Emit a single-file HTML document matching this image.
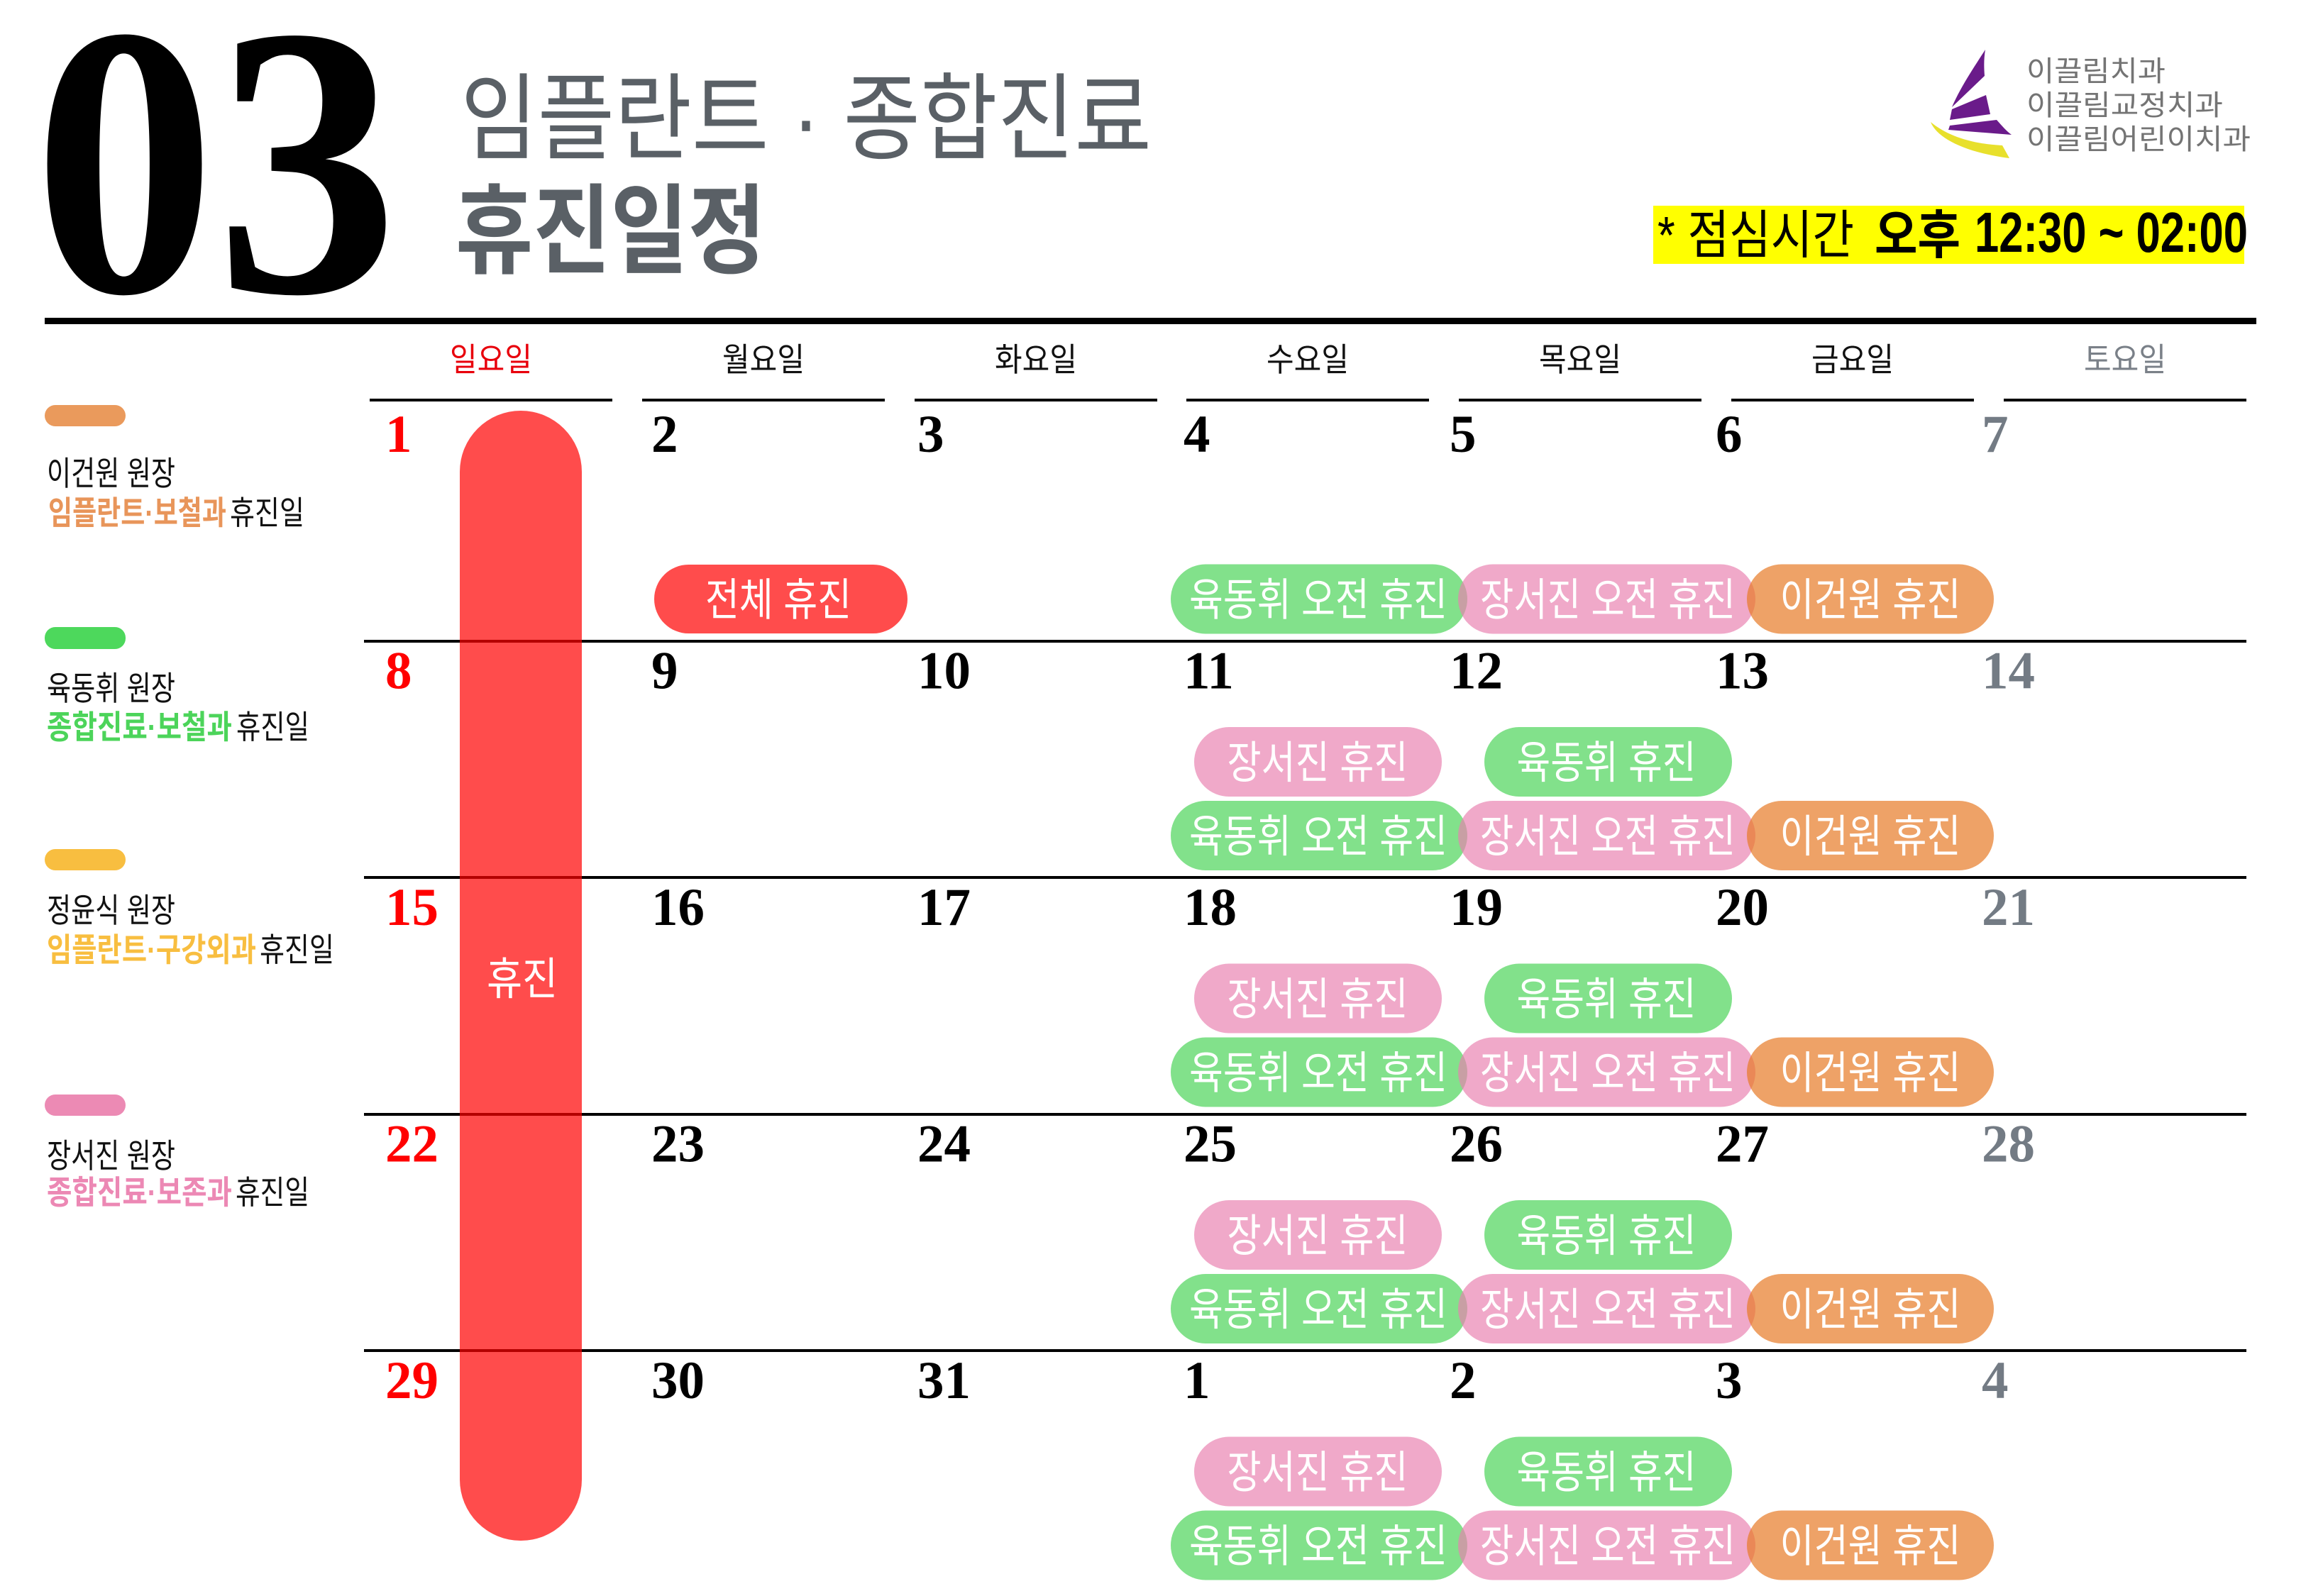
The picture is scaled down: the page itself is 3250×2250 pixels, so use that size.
<!DOCTYPE html>
<html><head><meta charset="utf-8"><style>
html,body{margin:0;padding:0;background:#fff;}
svg{display:block;}
.k{font-family:"Liberation Sans","Noto Sans CJK KR",sans-serif;}
.n{font-family:"Liberation Serif",serif;font-weight:bold;font-size:75px;}
.p{font-family:"Liberation Sans","Noto Sans CJK KR",sans-serif;font-size:63px;fill:#fff;}
.h{font-family:"Liberation Sans","Noto Sans CJK KR",sans-serif;font-size:46px;fill:#111;}
</style></head><body>
<svg width="3250" height="2250" viewBox="0 0 3250 2250" xmlns="http://www.w3.org/2000/svg">
<rect width="3250" height="2250" fill="#fff"/>

<!-- Big 03 -->
<text x="47" y="411" font-family="Liberation Serif, serif" font-weight="bold" font-size="545" textLength="514" lengthAdjust="spacingAndGlyphs" fill="#000">03</text>

<!-- Title -->
<text class="k" x="649" y="214" font-size="134" fill="#5a6066" textLength="974" lengthAdjust="spacingAndGlyphs">임플란트 · 종합진료</text>
<text class="k" x="642" y="374" font-size="138" font-weight="bold" fill="#5a6066" textLength="437" lengthAdjust="spacingAndGlyphs">휴진일정</text>

<!-- Logo -->
<path d="M2798,70 C2780,98 2762,125 2751,151 L2797,107 C2796,94 2796,82 2798,70 Z" fill="#6a1b8a"/>
<path d="M2751,154 L2799,134 L2805,161 L2748,169 Z" fill="#6a1b8a"/>
<path d="M2748,177 L2814,169 C2822,178 2828,185 2835,190 L2746,183 Z" fill="#6a1b8a"/>
<path d="M2721,172 C2730,195 2770,215 2832,223 L2822,205 C2780,203 2745,192 2721,172 Z" fill="#e8e02c"/>
<text class="k" x="2856" y="114" font-size="40" fill="#747474" textLength="196" lengthAdjust="spacingAndGlyphs">이끌림치과</text>
<text class="k" x="2856" y="162" font-size="40" fill="#747474" textLength="277" lengthAdjust="spacingAndGlyphs">이끌림교정치과</text>
<text class="k" x="2856" y="210" font-size="40" fill="#747474" textLength="316" lengthAdjust="spacingAndGlyphs">이끌림어린이치과</text>

<!-- Lunch box -->
<rect x="2330" y="290" width="833" height="82" fill="#ffff00"/>
<text class="k" x="2336" y="357" font-size="74" fill="#000" textLength="277" lengthAdjust="spacingAndGlyphs">* 점심시간</text>
<text class="k" x="2642" y="357" font-size="74" font-weight="bold" fill="#000" textLength="121" lengthAdjust="spacingAndGlyphs">오후</text>
<text x="2783" y="355" font-family="Liberation Sans, sans-serif" font-weight="bold" font-size="80" fill="#000" textLength="385" lengthAdjust="spacingAndGlyphs">12:30 ~ 02:00</text>

<!-- Top rule -->
<rect x="63" y="448" width="3117" height="9" fill="#000"/>

<!-- Day headers -->
<text class="h" x="692" y="523" text-anchor="middle" fill="#e8000b" style="fill:#e8000b" textLength="116" lengthAdjust="spacingAndGlyphs">일요일</text>
<text class="h" x="1076" y="523" text-anchor="middle" textLength="116" lengthAdjust="spacingAndGlyphs">월요일</text>
<text class="h" x="1460" y="523" text-anchor="middle" textLength="116" lengthAdjust="spacingAndGlyphs">화요일</text>
<text class="h" x="1843" y="523" text-anchor="middle" textLength="116" lengthAdjust="spacingAndGlyphs">수요일</text>
<text class="h" x="2227" y="523" text-anchor="middle" textLength="116" lengthAdjust="spacingAndGlyphs">목요일</text>
<text class="h" x="2611" y="523" text-anchor="middle" textLength="116" lengthAdjust="spacingAndGlyphs">금요일</text>
<text class="h" x="2995" y="523" text-anchor="middle" style="fill:#7a8088" textLength="116" lengthAdjust="spacingAndGlyphs">토요일</text>

<!-- Header underlines -->
<g fill="#000">
<rect x="521" y="562" width="342" height="4"/>
<rect x="905" y="562" width="342" height="4"/>
<rect x="1289" y="562" width="342" height="4"/>
<rect x="1672" y="562" width="342" height="4"/>
<rect x="2056" y="562" width="342" height="4"/>
<rect x="2440" y="562" width="342" height="4"/>
<rect x="2824" y="562" width="342" height="4"/>
</g>

<!-- Row lines -->
<g fill="#000">
<rect x="513" y="902" width="2653" height="4"/>
<rect x="513" y="1235" width="2653" height="4"/>
<rect x="513" y="1569" width="2653" height="4"/>
<rect x="513" y="1902" width="2653" height="4"/>
</g>

<!-- Legend -->
<rect x="63" y="571" width="114" height="30" rx="15" fill="#ea9a5c"/>
<text class="k" x="66" y="684" font-size="47" fill="#111" textLength="181" lengthAdjust="spacingAndGlyphs">이건원 원장</text>
<text class="k" x="68" y="739" font-size="46" font-weight="bold" fill="#e8955a" textLength="251" lengthAdjust="spacingAndGlyphs">임플란트·보철과</text>
<text class="k" x="324" y="739" font-size="46" fill="#111" textLength="105" lengthAdjust="spacingAndGlyphs">휴진일</text>

<rect x="63" y="884" width="114" height="31" rx="15" fill="#4dd85c"/>
<text class="k" x="66" y="987" font-size="47" fill="#111" textLength="181" lengthAdjust="spacingAndGlyphs">육동휘 원장</text>
<text class="k" x="66" y="1041" font-size="46" font-weight="bold" fill="#4cd45a" textLength="261" lengthAdjust="spacingAndGlyphs">종합진료·보철과</text>
<text class="k" x="333" y="1041" font-size="46" fill="#111" textLength="103" lengthAdjust="spacingAndGlyphs">휴진일</text>

<rect x="63" y="1197" width="114" height="30" rx="15" fill="#f8be40"/>
<text class="k" x="66" y="1300" font-size="47" fill="#111" textLength="181" lengthAdjust="spacingAndGlyphs">정윤식 원장</text>
<text class="k" x="66" y="1355" font-size="46" font-weight="bold" fill="#f8be40" textLength="295" lengthAdjust="spacingAndGlyphs">임플란트·구강외과</text>
<text class="k" x="366" y="1355" font-size="46" fill="#111" textLength="105" lengthAdjust="spacingAndGlyphs">휴진일</text>

<rect x="63" y="1543" width="114" height="30" rx="15" fill="#ec8ab4"/>
<text class="k" x="66" y="1646" font-size="47" fill="#111" textLength="181" lengthAdjust="spacingAndGlyphs">장서진 원장</text>
<text class="k" x="66" y="1697" font-size="46" font-weight="bold" fill="#ec88b4" textLength="261" lengthAdjust="spacingAndGlyphs">종합진료·보존과</text>
<text class="k" x="332" y="1697" font-size="46" fill="#111" textLength="104" lengthAdjust="spacingAndGlyphs">휴진일</text>

<!-- Date numbers -->
<g class="n">
<text x="543" y="637" fill="#ff0000">1</text>
<text x="918" y="637">2</text>
<text x="1293" y="637">3</text>
<text x="1668" y="637">4</text>
<text x="2043" y="637">5</text>
<text x="2418" y="637">6</text>
<text x="2793" y="637" fill="#737b84">7</text>

<text x="543" y="970.5" fill="#ff0000">8</text>
<text x="918" y="970.5">9</text>
<text x="1293" y="970.5">10</text>
<text x="1668" y="970.5">11</text>
<text x="2043" y="970.5">12</text>
<text x="2418" y="970.5">13</text>
<text x="2793" y="970.5" fill="#737b84">14</text>

<text x="543" y="1304" fill="#ff0000">15</text>
<text x="918" y="1304">16</text>
<text x="1293" y="1304">17</text>
<text x="1668" y="1304">18</text>
<text x="2043" y="1304">19</text>
<text x="2418" y="1304">20</text>
<text x="2793" y="1304" fill="#737b84">21</text>

<text x="543" y="1637.5" fill="#ff0000">22</text>
<text x="918" y="1637.5">23</text>
<text x="1293" y="1637.5">24</text>
<text x="1668" y="1637.5">25</text>
<text x="2043" y="1637.5">26</text>
<text x="2418" y="1637.5">27</text>
<text x="2793" y="1637.5" fill="#737b84">28</text>

<text x="543" y="1971" fill="#ff0000">29</text>
<text x="918" y="1971">30</text>
<text x="1293" y="1971">31</text>
<text x="1668" y="1971">1</text>
<text x="2043" y="1971">2</text>
<text x="2418" y="1971">3</text>
<text x="2793" y="1971" fill="#737b84">4</text>
</g>

<!-- Big Sunday pill -->
<rect x="648" y="579" width="172" height="1593" rx="86" fill="#ff0000" fill-opacity="0.7"/>
<text class="p" x="736" y="1402" text-anchor="middle" font-size="62" textLength="100" lengthAdjust="spacingAndGlyphs">휴진</text>

<!-- Row 1 pills -->
<rect x="922" y="796" width="357" height="97" rx="48.5" fill="#ff0000" fill-opacity="0.7"/>
<text class="p" x="1097" y="867.5" text-anchor="middle" textLength="206" lengthAdjust="spacingAndGlyphs">전체 휴진</text>

<rect x="1650" y="795.5" width="418" height="98" rx="49" fill="#82e18b"/>
<text class="p" x="1858" y="867.5" text-anchor="middle" textLength="364" lengthAdjust="spacingAndGlyphs">육동휘 오전 휴진</text>
<rect x="2055" y="795.5" width="419" height="98" rx="49" fill="rgb(233,128,176)" fill-opacity="0.68"/>
<text class="p" x="2266" y="867.5" text-anchor="middle" textLength="360" lengthAdjust="spacingAndGlyphs">장서진 오전 휴진</text>
<rect x="2462" y="795.5" width="348" height="98" rx="49" fill="rgb(231,122,39)" fill-opacity="0.7"/>
<text class="p" x="2636" y="867.5" text-anchor="middle" textLength="255" lengthAdjust="spacingAndGlyphs">이건원 휴진</text>

<!-- Row 2 -->
<rect x="1683" y="1025" width="349" height="98" rx="49" fill="rgb(233,128,176)" fill-opacity="0.68"/>
<text class="p" x="1857" y="1097" text-anchor="middle" textLength="255" lengthAdjust="spacingAndGlyphs">장서진 휴진</text>
<rect x="2092" y="1025" width="349" height="98" rx="49" fill="#82e18b"/>
<text class="p" x="2264" y="1097" text-anchor="middle" textLength="253" lengthAdjust="spacingAndGlyphs">육동휘 휴진</text>
<rect x="1650" y="1129" width="418" height="98" rx="49" fill="#82e18b"/>
<text class="p" x="1858" y="1201" text-anchor="middle" textLength="364" lengthAdjust="spacingAndGlyphs">육동휘 오전 휴진</text>
<rect x="2055" y="1129" width="419" height="98" rx="49" fill="rgb(233,128,176)" fill-opacity="0.68"/>
<text class="p" x="2266" y="1201" text-anchor="middle" textLength="360" lengthAdjust="spacingAndGlyphs">장서진 오전 휴진</text>
<rect x="2462" y="1129" width="348" height="98" rx="49" fill="rgb(231,122,39)" fill-opacity="0.7"/>
<text class="p" x="2636" y="1201" text-anchor="middle" textLength="255" lengthAdjust="spacingAndGlyphs">이건원 휴진</text>

<!-- Row 3 -->
<rect x="1683" y="1358.5" width="349" height="98" rx="49" fill="rgb(233,128,176)" fill-opacity="0.68"/>
<text class="p" x="1857" y="1430.5" text-anchor="middle" textLength="255" lengthAdjust="spacingAndGlyphs">장서진 휴진</text>
<rect x="2092" y="1358.5" width="349" height="98" rx="49" fill="#82e18b"/>
<text class="p" x="2264" y="1430.5" text-anchor="middle" textLength="253" lengthAdjust="spacingAndGlyphs">육동휘 휴진</text>
<rect x="1650" y="1462.5" width="418" height="98" rx="49" fill="#82e18b"/>
<text class="p" x="1858" y="1534.5" text-anchor="middle" textLength="364" lengthAdjust="spacingAndGlyphs">육동휘 오전 휴진</text>
<rect x="2055" y="1462.5" width="419" height="98" rx="49" fill="rgb(233,128,176)" fill-opacity="0.68"/>
<text class="p" x="2266" y="1534.5" text-anchor="middle" textLength="360" lengthAdjust="spacingAndGlyphs">장서진 오전 휴진</text>
<rect x="2462" y="1462.5" width="348" height="98" rx="49" fill="rgb(231,122,39)" fill-opacity="0.7"/>
<text class="p" x="2636" y="1534.5" text-anchor="middle" textLength="255" lengthAdjust="spacingAndGlyphs">이건원 휴진</text>

<!-- Row 4 -->
<rect x="1683" y="1692" width="349" height="98" rx="49" fill="rgb(233,128,176)" fill-opacity="0.68"/>
<text class="p" x="1857" y="1764" text-anchor="middle" textLength="255" lengthAdjust="spacingAndGlyphs">장서진 휴진</text>
<rect x="2092" y="1692" width="349" height="98" rx="49" fill="#82e18b"/>
<text class="p" x="2264" y="1764" text-anchor="middle" textLength="253" lengthAdjust="spacingAndGlyphs">육동휘 휴진</text>
<rect x="1650" y="1796" width="418" height="98" rx="49" fill="#82e18b"/>
<text class="p" x="1858" y="1868" text-anchor="middle" textLength="364" lengthAdjust="spacingAndGlyphs">육동휘 오전 휴진</text>
<rect x="2055" y="1796" width="419" height="98" rx="49" fill="rgb(233,128,176)" fill-opacity="0.68"/>
<text class="p" x="2266" y="1868" text-anchor="middle" textLength="360" lengthAdjust="spacingAndGlyphs">장서진 오전 휴진</text>
<rect x="2462" y="1796" width="348" height="98" rx="49" fill="rgb(231,122,39)" fill-opacity="0.7"/>
<text class="p" x="2636" y="1868" text-anchor="middle" textLength="255" lengthAdjust="spacingAndGlyphs">이건원 휴진</text>

<!-- Row 5 -->
<rect x="1683" y="2025.5" width="349" height="98" rx="49" fill="rgb(233,128,176)" fill-opacity="0.68"/>
<text class="p" x="1857" y="2097.5" text-anchor="middle" textLength="255" lengthAdjust="spacingAndGlyphs">장서진 휴진</text>
<rect x="2092" y="2025.5" width="349" height="98" rx="49" fill="#82e18b"/>
<text class="p" x="2264" y="2097.5" text-anchor="middle" textLength="253" lengthAdjust="spacingAndGlyphs">육동휘 휴진</text>
<rect x="1650" y="2129.5" width="418" height="98" rx="49" fill="#82e18b"/>
<text class="p" x="1858" y="2201.5" text-anchor="middle" textLength="364" lengthAdjust="spacingAndGlyphs">육동휘 오전 휴진</text>
<rect x="2055" y="2129.5" width="419" height="98" rx="49" fill="rgb(233,128,176)" fill-opacity="0.68"/>
<text class="p" x="2266" y="2201.5" text-anchor="middle" textLength="360" lengthAdjust="spacingAndGlyphs">장서진 오전 휴진</text>
<rect x="2462" y="2129.5" width="348" height="98" rx="49" fill="rgb(231,122,39)" fill-opacity="0.7"/>
<text class="p" x="2636" y="2201.5" text-anchor="middle" textLength="255" lengthAdjust="spacingAndGlyphs">이건원 휴진</text>
</svg>
</body></html>
